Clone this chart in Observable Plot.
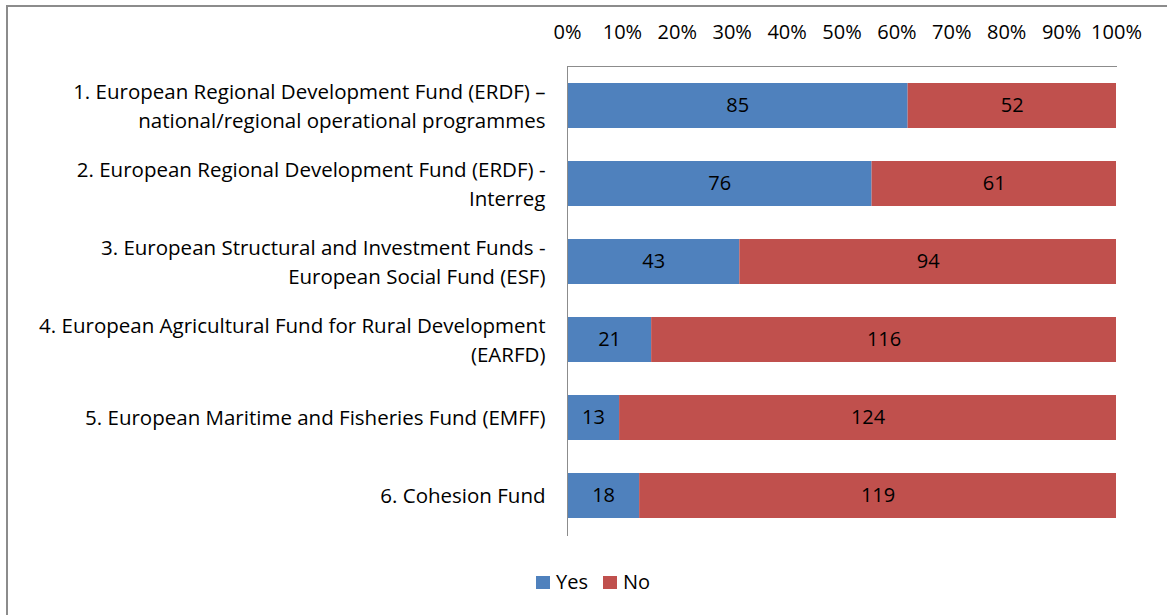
<!DOCTYPE html>
<html><head><meta charset="utf-8">
<script src="https://cdn.jsdelivr.net/npm/d3@7"></script>
<script src="https://cdn.jsdelivr.net/npm/@observablehq/plot@0.6"></script>
<style>
body{margin:0;background:#fff;font-family:"Open Sans",sans-serif;}
#wrap{position:relative;width:1167px;height:615px;overflow:hidden;}
#frame{position:absolute;left:6px;top:5px;width:1220px;height:700px;border:2px solid #8c8c8c;box-sizing:border-box;}
#chart{position:absolute;left:0;top:0;}
#legend{position:absolute;top:570px;left:536px;font-size:20px;line-height:24px;color:#000;display:flex;align-items:center;}
#legend .sw{display:inline-block;width:14px;height:13px;margin-right:6px;}
#legend .it{display:flex;align-items:center;margin-right:15px;}
</style></head>
<body>
<div id="wrap">
<div id="frame"></div>
<div id="chart"></div>
<div id="legend"></div>
</div>
<script>
const categories = [
  "1. European Regional Development Fund (ERDF) –\nnational/regional operational programmes",
  "2. European Regional Development Fund (ERDF) -\nInterreg",
  "3. European Structural and Investment Funds -\nEuropean Social Fund (ESF)",
  "4. European Agricultural Fund for Rural Development\n(EARFD)",
  "5. European Maritime and Fisheries Fund (EMFF)",
  "6. Cohesion Fund"
];
const yesValues = [85, 76, 43, 21, 13, 18];
const noValues = [52, 61, 94, 116, 124, 119];
const seriesNames = ["Yes", "No"];
const seriesColors = ["#4F81BD", "#C0504D"];
const xTicks = [0, 0.1, 0.2, 0.3, 0.4, 0.5, 0.6, 0.7, 0.8, 0.9, 1];

const data = categories.flatMap((c, i) => [
  {cat: c, answer: "Yes", n: yesValues[i]},
  {cat: c, answer: "No", n: noValues[i]}
]);

const stackOpts = {offset: "normalize", x: "n", y: "cat", z: "answer", order: seriesNames};

const chart = Plot.plot({
  width: 1167,
  height: 560,
  marginLeft: 567,
  marginRight: 51,
  marginTop: 66,
  marginBottom: 25,
  style: {fontFamily: "'Open Sans', sans-serif", color: "#000", background: "transparent"},
  x: {domain: [0, 1]},
  y: {domain: categories, paddingInner: 0.42, paddingOuter: 0.21},
  color: {domain: seriesNames, range: seriesColors},
  marks: [
    Plot.barX(data, Plot.stackX({...stackOpts, fill: "answer"})),
    Plot.text(data, Plot.stackX({...stackOpts, text: d => String(d.n), fontSize: 20, fill: "#000"})),
    Plot.frame({anchor: "top", stroke: "#8c8c8c"}),
    Plot.frame({anchor: "left", stroke: "#8c8c8c"}),
    Plot.axisX({anchor: "top", ticks: xTicks, tickFormat: d => Math.round(d * 100) + "%", tickSize: 0, tickPadding: 28, fontSize: 20, label: null}),
    Plot.axisY({anchor: "left", tickSize: 0, tickPadding: 22, fontSize: 20.5, lineHeight: 1.42, dy: -2, label: null})
  ]
});
document.getElementById("chart").appendChild(chart);

const legend = document.getElementById("legend");
seriesNames.forEach((s, i) => {
  const it = document.createElement("span");
  it.className = "it";
  it.innerHTML = `<span class="sw" style="background:${seriesColors[i]}"></span>${s}`;
  legend.appendChild(it);
});
</script>
</body></html>
